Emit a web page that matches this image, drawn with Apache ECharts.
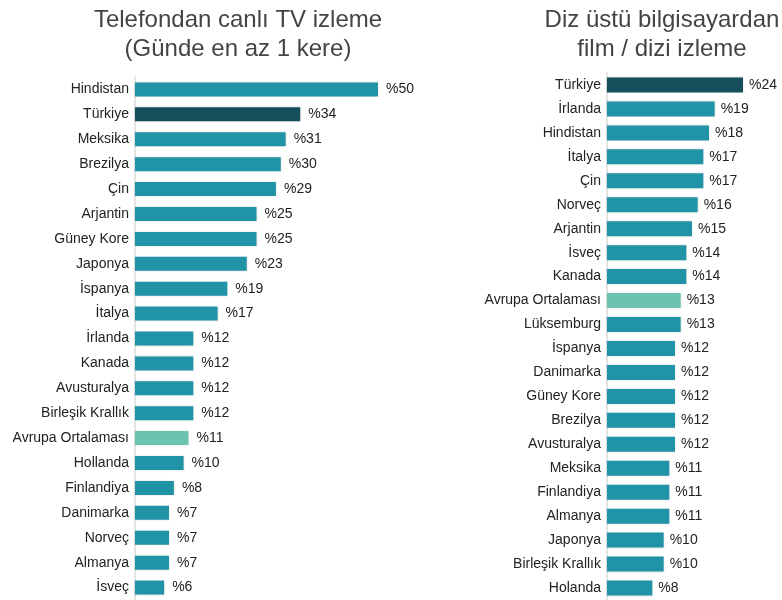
<!DOCTYPE html>
<html>
<head>
<meta charset="utf-8">
<script src="https://cdn.jsdelivr.net/npm/echarts@6/dist/echarts.min.js"></script>
<style>
  html, body { margin: 0; padding: 0; background: #fff; }
  #main { width: 782px; height: 600px; }
</style>
</head>
<body>
<div id="main"></div>
<script>
// sol grafik: telefondan canlı TV
var tvUlkeler = ['Hindistan', 'Türkiye', 'Meksika', 'Brezilya', 'Çin', 'Arjantin', 'Güney Kore', 'Japonya', 'İspanya', 'İtalya', 'İrlanda', 'Kanada', 'Avusturalya', 'Birleşik Krallık', 'Avrupa Ortalaması', 'Hollanda', 'Finlandiya', 'Danimarka', 'Norveç', 'Almanya', 'İsveç'];
var tvDegerler = [50, 34, 31, 30, 29, 25, 25, 23, 19, 17, 12, 12, 12, 12, 11, 10, 8, 7, 7, 7, 6];

// sağ grafik: diz üstü bilgisayardan film / dizi
var pcUlkeler = ['Türkiye', 'İrlanda', 'Hindistan', 'İtalya', 'Çin', 'Norveç', 'Arjantin', 'İsveç', 'Kanada', 'Avrupa Ortalaması', 'Lüksemburg', 'İspanya', 'Danimarka', 'Güney Kore', 'Brezilya', 'Avusturalya', 'Meksika', 'Finlandiya', 'Almanya', 'Japonya', 'Birleşik Krallık', 'Holanda'];
var pcDegerler = [24, 19, 18, 17, 17, 16, 15, 14, 14, 13, 13, 12, 12, 12, 12, 12, 11, 11, 11, 10, 10, 8];

var renkNormal = '#2193a6';
var renkTurkiye = '#164f5b';
var renkAvrupa = '#6cc3ae';

function renkle(ulkeler, degerler) {
    return degerler.map(function (v, i) {
        var c = renkNormal;
        if (ulkeler[i] === 'Türkiye') c = renkTurkiye;
        if (ulkeler[i] === 'Avrupa Ortalaması') c = renkAvrupa;
        return { value: v, itemStyle: { color: c } };
    });
}

var myChart = echarts.init(document.getElementById('main'));

var yazi = 'Liberation Sans, Arial, sans-serif';

myChart.setOption({
    animation: false,
    title: [
        {
            text: 'Telefondan canlı TV izleme\n(Günde en az 1 kere)',
            left: 233, top: 1, textAlign: 'center',
            textStyle: { fontFamily: yazi, fontSize: 24, fontWeight: 'normal', color: '#444', lineHeight: 29 }
        },
        {
            text: 'Diz üstü bilgisayardan\nfilm / dizi izleme',
            left: 657, top: 1, textAlign: 'center',
            textStyle: { fontFamily: yazi, fontSize: 24, fontWeight: 'normal', color: '#444', lineHeight: 29 }
        }
    ],
    grid: [
        { left: 135, top: 77, width: 243, height: 525 },
        { left: 607, top: 73, width: 136, height: 529 }
    ],
    xAxis: [
        { gridIndex: 0, type: 'value', min: 0, max: 50, show: false },
        { gridIndex: 1, type: 'value', min: 0, max: 24, show: false }
    ],
    yAxis: [
        {
            gridIndex: 0, type: 'category', inverse: true, data: tvUlkeler,
            axisLine: { lineStyle: { color: '#e4e4e4', width: 2 } },
            axisTick: { show: false },
            axisLabel: { margin: 6, fontFamily: yazi, fontSize: 14, color: '#222' }
        },
        {
            gridIndex: 1, type: 'category', inverse: true, data: pcUlkeler,
            axisLine: { lineStyle: { color: '#e4e4e4', width: 2 } },
            axisTick: { show: false },
            axisLabel: { margin: 6, fontFamily: yazi, fontSize: 14, color: '#222' }
        }
    ],
    series: [
        {
            type: 'bar', xAxisIndex: 0, yAxisIndex: 0,
            data: renkle(tvUlkeler, tvDegerler),
            barWidth: 14,
            itemStyle: { shadowColor: 'rgba(0,0,0,0.15)', shadowBlur: 2 },
            label: { show: true, position: 'right', distance: 8, formatter: '%{c}', fontFamily: yazi, fontSize: 14, color: '#222' }
        },
        {
            type: 'bar', xAxisIndex: 1, yAxisIndex: 1,
            data: renkle(pcUlkeler, pcDegerler),
            barWidth: 15,
            itemStyle: { shadowColor: 'rgba(0,0,0,0.15)', shadowBlur: 2 },
            label: { show: true, position: 'right', distance: 6, formatter: '%{c}', fontFamily: yazi, fontSize: 14, color: '#222' }
        }
    ]
});

window.onresize = function () {
    myChart.resize();
};
</script>
</body>
</html>
